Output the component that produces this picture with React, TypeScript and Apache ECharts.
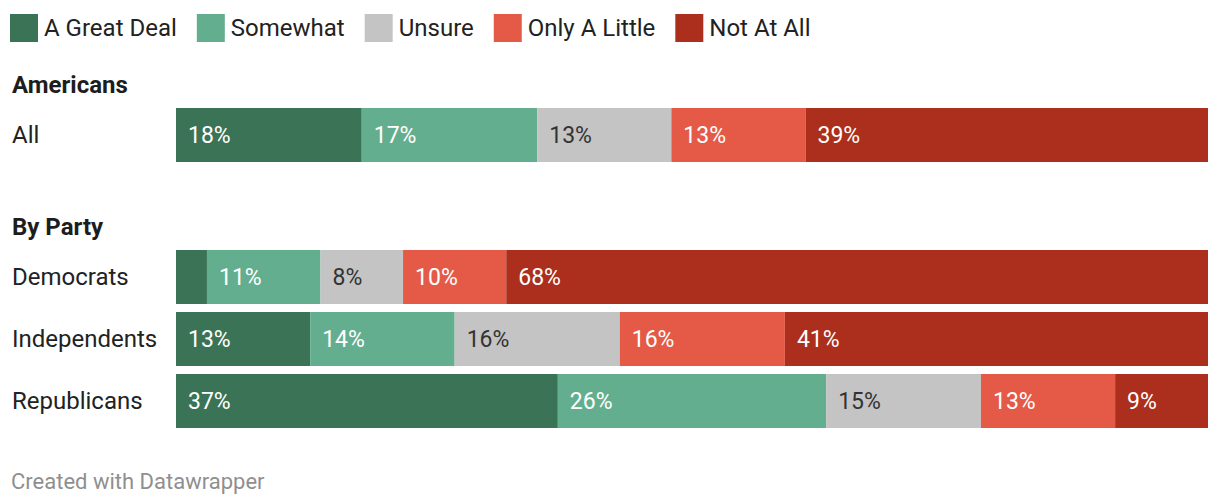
import React, { useEffect, useRef } from "react";
import * as echarts from "echarts";

const categories = ["A Great Deal", "Somewhat", "Unsure", "Only A Little", "Not At All"];
const colors = ["#3a7356", "#64ae90", "#c4c4c4", "#e45a47", "#ac2e1c"];
const overallRows = ["All"];
const partyRows = ["Democrats", "Independents", "Republicans"];
const allValues = [18, 17, 13, 13, 39];
const democrats = [3, 11, 8, 10, 68];
const independents = [13, 14, 16, 16, 41];
const republicans = [37, 26, 15, 13, 9];
const groupTitles = ["Americans", "By Party"];
const footer = "Created with Datawrapper";

const FONT = "Roboto, 'Noto Sans', sans-serif";

export default function App() {
  const ref = useRef<HTMLDivElement>(null);
  useEffect(() => {
    document.body.style.margin = "0";
    if (!ref.current) return;
    const chart = echarts.init(ref.current, null, { renderer: "svg" });

    const labelFor = (i: number) => ({
      show: true,
      position: "insideLeft",
      distance: 12,
      fontFamily: FONT,
      fontSize: 23,
      color: i === 2 ? "#333333" : "#ffffff",
      formatter: (p: any) => (p.value >= 5 ? p.value + "%" : ""),
    });

    const series: any[] = [];
    categories.forEach((name, i) => {
      series.push({
        type: "bar",
        name,
        stack: "overall",
        xAxisIndex: 0,
        yAxisIndex: 0,
        barWidth: 54,
        itemStyle: { color: colors[i] },
        label: labelFor(i),
        data: [allValues[i]],
      });
    });
    categories.forEach((name, i) => {
      series.push({
        type: "bar",
        name,
        stack: "party",
        xAxisIndex: 1,
        yAxisIndex: 1,
        barWidth: 54,
        itemStyle: { color: colors[i] },
        label: labelFor(i),
        data: [democrats[i], independents[i], republicans[i]],
      });
    });

    const yAxisBase = {
      type: "category",
      inverse: true,
      axisLine: { show: false },
      axisTick: { show: false },
      axisLabel: {
        align: "left",
        margin: 164,
        fontFamily: FONT,
        fontSize: 24,
        color: "#222222",
      },
    };

    chart.setOption({
      animation: false,
      textStyle: { fontFamily: FONT },
      legend: {
        left: 10,
        top: 14,
        itemWidth: 28,
        itemHeight: 28,
        itemGap: 20,
        icon: "rect",
        padding: 0,
        data: categories,
        textStyle: { fontFamily: FONT, fontSize: 24, color: "#222222", padding: [0, 0, 0, 1] },
        selectedMode: false,
      },
      grid: [
        { left: 176, right: 12, top: 108, height: 54 },
        { left: 176, right: 12, top: 246, height: 186 },
      ],
      xAxis: [
        { type: "value", gridIndex: 0, min: 0, max: 100, show: false },
        { type: "value", gridIndex: 1, min: 0, max: 100, show: false },
      ],
      yAxis: [
        { ...yAxisBase, gridIndex: 0, data: overallRows },
        { ...yAxisBase, gridIndex: 1, data: partyRows },
      ],
      series,
      graphic: [
        {
          type: "text",
          x: 12,
          y: 85,
          style: { text: groupTitles[0], fontFamily: FONT, fontSize: 24, fontWeight: "bold", fill: "#1d1d1d", verticalAlign: "middle" },
        },
        {
          type: "text",
          x: 12,
          y: 227,
          style: { text: groupTitles[1], fontFamily: FONT, fontSize: 24, fontWeight: "bold", fill: "#1d1d1d", verticalAlign: "middle" },
        },
        {
          type: "text",
          x: 11,
          y: 481,
          style: { text: footer, fontFamily: FONT, fontSize: 22, fill: "#8f8f8f", verticalAlign: "middle" },
        },
      ],
    });
    return () => chart.dispose();
  }, []);
  return <div ref={ref} style={{ width: 1220, height: 504 }} />;
}
